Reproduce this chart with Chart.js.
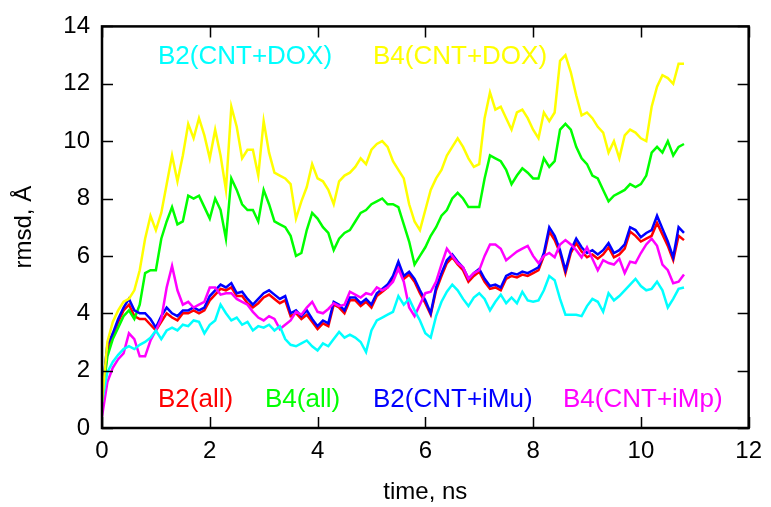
<!DOCTYPE html>
<html>
<head>
<meta charset="utf-8">
<script src="https://cdn.jsdelivr.net/npm/chart.js@4.4.0/dist/chart.umd.min.js"></script>
<style>
    html, body { margin: 0; padding: 0; background: #fff; }
    #wrap { width: 771px; height: 507px; }
</style>
</head>
<body>
<div id="wrap"><canvas id="chart" width="771" height="507"></canvas></div>
<script>
// time axis, ns
var TIMES = [
    0.0, 0.1, 0.2, 0.3, 0.4, 0.5, 0.6, 0.7, 0.8, 0.9,
    1.0, 1.1, 1.2, 1.3, 1.4, 1.5, 1.6, 1.7, 1.8, 1.9,
    2.0, 2.1, 2.2, 2.3, 2.4, 2.5, 2.6, 2.7, 2.8, 2.9,
    3.0, 3.1, 3.2, 3.3, 3.4, 3.5, 3.6, 3.7, 3.8, 3.9,
    4.0, 4.1, 4.2, 4.3, 4.4, 4.5, 4.6, 4.7, 4.8, 4.9,
    5.0, 5.1, 5.2, 5.3, 5.4, 5.5, 5.6, 5.7, 5.8, 5.9,
    6.0, 6.1, 6.2, 6.3, 6.4, 6.5, 6.6, 6.7, 6.8, 6.9,
    7.0, 7.1, 7.2, 7.3, 7.4, 7.5, 7.6, 7.7, 7.8, 7.9,
    8.0, 8.1, 8.2, 8.3, 8.4, 8.5, 8.6, 8.7, 8.8, 8.9,
    9.0, 9.1, 9.2, 9.3, 9.4, 9.5, 9.6, 9.7, 9.8, 9.9,
    10.0, 10.1, 10.2, 10.3, 10.4, 10.5, 10.6, 10.7, 10.8
];

// rmsd, Å
var B2_ALL = [
    1.0, 2.7, 3.2, 3.7, 4.1, 4.3, 3.9, 3.8, 3.8, 3.6,
    3.4, 3.7, 4.0, 3.85, 3.75, 4.0, 4.0, 4.1, 4.0, 4.1,
    4.45, 4.65, 4.85, 4.8, 4.9, 4.6, 4.6, 4.35, 4.2, 4.35,
    4.55, 4.65, 4.5, 4.35, 4.45, 3.9, 4.0, 3.8, 3.95, 3.7,
    3.45, 3.65, 3.55, 4.3, 4.2, 4.0, 4.45, 4.45, 4.25, 4.4,
    4.2, 4.6, 4.75, 4.9, 5.2, 5.7, 5.2, 5.35, 5.1, 4.7,
    4.35, 3.95, 4.8, 5.3, 5.75, 5.95, 5.7, 5.5, 5.1, 5.3,
    5.45, 5.1, 4.85, 4.9, 4.8, 5.2, 5.3, 5.25, 5.35, 5.3,
    5.4, 5.5, 6.0, 6.85, 6.55, 6.1, 5.4, 6.1, 6.45, 6.15,
    5.95, 6.05, 5.9, 6.05, 6.3, 5.95, 6.05, 6.25, 6.85, 6.7,
    6.5, 6.6, 6.7, 7.15, 6.75, 6.35, 5.85, 6.7, 6.55
];
var B4_ALL = [
    1.0, 2.5, 3.1, 3.5, 3.9, 4.1, 3.8, 4.3, 5.4, 5.5,
    5.5, 6.6, 7.2, 7.7, 7.1, 7.2, 8.1, 8.0, 8.1, 7.7,
    7.3, 8.0, 7.6, 6.6, 8.7, 8.3, 7.8, 7.6, 7.6, 7.2,
    8.3, 7.8, 7.2, 7.1, 7.0, 6.7, 6.0, 6.1, 6.9, 7.5,
    7.3, 7.0, 6.8, 6.2, 6.6, 6.8, 6.9, 7.2, 7.5, 7.6,
    7.8, 7.9, 8.0, 7.8, 7.8, 7.7, 7.1, 6.5, 5.7, 6.0,
    6.3, 6.7, 7.0, 7.4, 7.6, 8.0, 8.2, 8.0, 7.7, 7.7,
    7.7, 8.7, 9.5, 9.4, 9.3, 9.0, 8.5, 8.8, 9.05, 8.9,
    8.7, 8.7, 9.4, 9.1, 9.3, 10.4, 10.6, 10.4, 9.8, 9.4,
    9.2, 8.8, 8.7, 8.3, 7.9, 8.1, 8.2, 8.3, 8.5, 8.4,
    8.5, 8.8, 9.6, 9.8, 9.6, 10.0, 9.5, 9.8, 9.9
];
var B2_IMU = [
    1.2, 2.9, 3.3, 3.8, 4.2, 4.5, 4.1, 4.0, 4.0, 3.8,
    3.5, 3.9, 4.2, 4.0, 3.9, 4.1, 4.1, 4.2, 4.1, 4.2,
    4.6, 4.8, 5.0, 4.9, 5.05, 4.7, 4.75, 4.5, 4.3, 4.5,
    4.7, 4.8, 4.65, 4.5, 4.6, 4.0, 4.1, 3.9, 4.1, 3.8,
    3.55, 3.75, 3.65, 4.4, 4.3, 4.1, 4.55, 4.55, 4.35, 4.5,
    4.3, 4.7, 4.85, 5.0, 5.3, 5.8, 5.3, 5.45, 5.2, 4.8,
    4.45, 4.0, 4.9, 5.4, 5.85, 6.05, 5.8, 5.6, 5.2, 5.4,
    5.55, 5.2, 4.95, 5.0, 4.9, 5.3, 5.4, 5.35, 5.45, 5.4,
    5.5, 5.6, 6.1, 7.0, 6.7, 6.2, 5.5, 6.2, 6.6, 6.3,
    6.1, 6.2, 6.05, 6.2, 6.45, 6.1, 6.2, 6.4, 7.0, 6.9,
    6.65, 6.8, 6.9, 7.4, 6.95, 6.5, 5.95, 7.0, 6.8
];
var B4_IMP = [
    0.4, 1.6, 2.1, 2.4, 2.6, 3.3, 3.1, 2.5, 2.5, 3.05,
    3.4, 3.8, 4.9, 5.65, 4.8, 4.3, 4.4, 4.2, 4.3, 4.4,
    4.9, 4.9, 4.65, 4.7, 4.7, 4.5, 4.4, 4.3, 4.05, 3.85,
    3.75, 3.9, 3.8, 3.45, 3.6, 3.75, 4.05, 3.95, 4.2, 4.4,
    4.05, 4.0, 4.15, 4.35, 4.25, 4.3, 4.75, 4.65, 4.55, 4.7,
    4.65, 4.9, 4.8, 4.9, 5.1, 5.55, 5.1, 4.2, 3.9, 4.3,
    4.7, 4.75, 5.1, 5.7, 6.25, 6.0, 5.75, 5.6, 5.2, 5.4,
    5.5, 6.0, 6.4, 6.4, 6.25, 5.85, 6.0, 6.15, 6.25, 6.35,
    6.0, 5.75, 6.0, 6.1, 5.95, 6.4, 6.55, 6.4, 6.2, 5.95,
    6.3, 5.9, 5.5, 5.85, 5.75, 5.7, 5.9, 5.4, 5.8, 5.75,
    6.1, 6.4, 6.6, 6.35, 5.7, 5.5, 5.05, 5.1, 5.35
];
var B2_DOX = [
    0.9, 1.95, 2.3, 2.55, 2.75, 2.85, 2.75, 2.9, 3.0, 3.15,
    3.4, 3.1, 3.4, 3.5, 3.4, 3.6, 3.55, 3.75, 3.7, 3.3,
    3.6, 3.75, 4.3, 4.0, 3.75, 3.85, 3.6, 3.7, 3.4, 3.55,
    3.5, 3.6, 3.4, 3.55, 3.1, 2.9, 2.85, 2.95, 3.05, 2.85,
    2.7, 2.95, 2.85, 3.1, 3.35, 3.15, 3.25, 3.15, 3.0, 2.65,
    3.4, 3.75, 3.85, 3.95, 4.05, 4.6, 4.3, 4.5, 4.1, 3.75,
    3.3, 3.15, 3.9, 4.4, 4.75, 5.0, 4.8, 4.5, 4.25, 4.55,
    4.7, 4.5, 4.1, 4.4, 4.65, 4.35, 4.55, 4.35, 4.75, 4.45,
    4.4, 4.45, 4.8, 5.3, 5.15, 4.5, 3.95, 3.95, 3.95, 3.9,
    4.25, 4.5, 4.4, 4.05, 4.7, 4.45, 4.6, 4.8, 5.0, 5.2,
    4.95, 4.8, 4.85, 5.1, 4.8, 4.2, 4.5, 4.85, 4.9
];
var B4_DOX = [
    0.9, 3.0, 3.7, 4.1, 4.4, 4.5, 4.8, 5.5, 6.6, 7.4,
    6.9, 7.5, 8.5, 9.5, 8.6, 9.5, 10.6, 10.1, 10.8, 10.2,
    9.4, 10.4, 9.5, 8.3, 11.2, 10.5, 9.4, 9.7, 9.7, 8.8,
    10.7, 9.6, 8.9, 8.8, 8.7, 8.5, 7.3, 7.9, 8.4, 9.2,
    8.7, 8.6, 8.3, 7.8, 8.6, 8.8, 8.9, 9.1, 9.4, 9.2,
    9.7, 9.9, 10.0, 9.8, 9.3, 9.0, 8.7, 7.8, 7.2, 6.9,
    7.6, 8.3, 8.7, 9.0, 9.5, 9.8, 10.1, 9.8, 9.4, 9.1,
    9.2, 10.8, 11.7, 11.1, 11.2, 10.8, 10.4, 11.0, 11.1, 10.8,
    10.4, 10.1, 11.0, 10.7, 11.0, 12.8, 13.0, 12.4, 11.6, 10.9,
    11.0, 10.8, 10.5, 10.3, 9.6, 10.0, 9.4, 10.2, 10.4, 10.3,
    10.1, 10.0, 11.2, 11.9, 12.3, 12.2, 12.0, 12.7, 12.7
];

var X_TICKS = [0, 2, 4, 6, 8, 10, 12];
var Y_TICKS = [0, 2, 4, 6, 8, 10, 12, 14];

var FONT = '"Liberation Sans", Arial, Helvetica, sans-serif';
var TICK_LEN = 11;

// 曲线图例文字（gnuplot 风格，无线段样本）
var KEYS = [
    { text: 'B2(CNT+DOX)', color: '#00ffff', dx: 56, dy: 38, row: 'top' },
    { text: 'B4(CNT+DOX)', color: '#ffff00', dx: 271, dy: 38, row: 'top' },
    { text: 'B2(all)', color: '#ff0000', dx: 56, dy: -21, row: 'bottom' },
    { text: 'B4(all)', color: '#00ff00', dx: 163, dy: -21, row: 'bottom' },
    { text: 'B2(CNT+iMu)', color: '#0000ff', dx: 271, dy: -21, row: 'bottom' },
    { text: 'B4(CNT+iMp)', color: '#ff00ff', dx: 461, dy: -21, row: 'bottom' }
];

function toPoints(values) {
    var pts = [];
    for (var i = 0; i < values.length; i++) {
        pts.push({ x: TIMES[i], y: values[i] });
    }
    return pts;
}

function line(label, values, color) {
    return {
        label: label,
        data: toPoints(values),
        borderColor: color,
        borderWidth: 2.5,
        pointRadius: 0,
        tension: 0,
        fill: false
    };
}

// 边框、内向刻度线和图内标注
var framePlugin = {
    id: 'frame',
    afterDatasetsDraw: function (chart) {
        var ctx = chart.ctx;
        var a = chart.chartArea;
        var xs = chart.scales.x;
        var ys = chart.scales.y;
        ctx.save();
        ctx.strokeStyle = '#000';
        ctx.lineWidth = 1.5;
        ctx.beginPath();
        X_TICKS.forEach(function (v) {
            var px = Math.round(xs.getPixelForValue(v)) + 0.5;
            ctx.moveTo(px, a.bottom); ctx.lineTo(px, a.bottom - TICK_LEN);
            ctx.moveTo(px, a.top); ctx.lineTo(px, a.top + TICK_LEN);
        });
        Y_TICKS.forEach(function (v) {
            var py = Math.round(ys.getPixelForValue(v)) + 0.5;
            ctx.moveTo(a.left, py); ctx.lineTo(a.left + TICK_LEN, py);
            ctx.moveTo(a.right, py); ctx.lineTo(a.right - TICK_LEN, py);
        });
        ctx.stroke();
        ctx.lineWidth = 2.5;
        ctx.strokeRect(a.left, a.top, a.right - a.left, a.bottom - a.top);

        ctx.font = '26px ' + FONT;
        ctx.textBaseline = 'alphabetic';
        ctx.textAlign = 'left';
        KEYS.forEach(function (k) {
            var y = k.row === 'top' ? a.top + k.dy : a.bottom + k.dy;
            ctx.fillStyle = k.color;
            ctx.fillText(k.text, a.left + k.dx, y);
        });
        ctx.restore();
    }
};

new Chart(document.getElementById('chart').getContext('2d'), {
    type: 'line',
    data: {
        datasets: [
            line('B4(CNT+DOX)', B4_DOX, '#ffff00'),
            line('B2(CNT+DOX)', B2_DOX, '#00ffff'),
            line('B4(CNT+iMp)', B4_IMP, '#ff00ff'),
            line('B2(CNT+iMu)', B2_IMU, '#0000ff'),
            line('B4(all)', B4_ALL, '#00ff00'),
            line('B2(all)', B2_ALL, '#ff0000')
        ]
    },
    options: {
        responsive: false,
        animation: false,
        events: [],
        layout: { padding: { top: 24, right: 21, left: 0, bottom: 0 } },
        plugins: {
            legend: { display: false },
            tooltip: { enabled: false }
        },
        scales: {
            x: {
                type: 'linear',
                min: 0,
                max: 12,
                afterBuildTicks: function (s) {
                    s.ticks = X_TICKS.map(function (v) { return { value: v }; });
                },
                afterFit: function (s) { s.height = 79; },
                grid: { display: false, drawTicks: false },
                border: { display: false },
                ticks: { color: '#000', font: { family: FONT, size: 24 }, padding: 9, maxRotation: 0 },
                title: {
                    display: true,
                    text: 'time, ns',
                    color: '#000',
                    font: { family: FONT, size: 24 },
                    padding: { top: 0, bottom: 0 }
                }
            },
            y: {
                type: 'linear',
                min: 0,
                max: 14,
                afterBuildTicks: function (s) {
                    s.ticks = Y_TICKS.map(function (v) { return { value: v }; });
                },
                afterFit: function (s) { s.width = 102; },
                grid: { display: false, drawTicks: false },
                border: { display: false },
                ticks: { color: '#000', font: { family: FONT, size: 24 }, padding: 12 },
                title: {
                    display: true,
                    text: 'rmsd, Å',
                    color: '#000',
                    font: { family: FONT, size: 24 },
                    padding: { top: 10, bottom: 0 }
                }
            }
        }
    },
    plugins: [framePlugin]
});
</script>
</body>
</html>
